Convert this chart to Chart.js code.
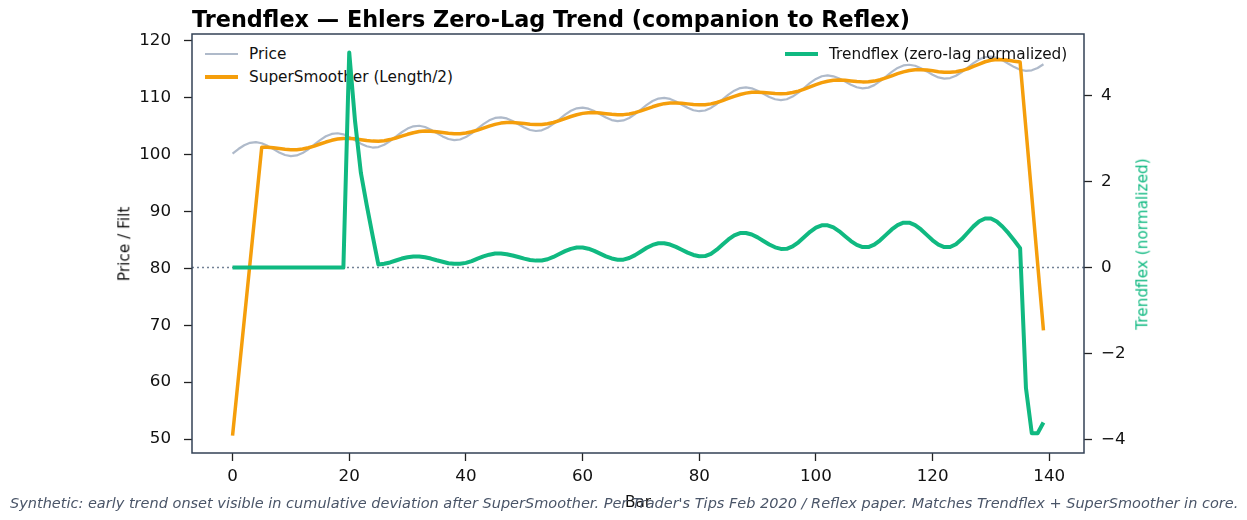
<!DOCTYPE html>
<html>
<head>
<meta charset="utf-8">
<script src="https://cdn.jsdelivr.net/npm/chart.js@4.4.0/dist/chart.umd.min.js"></script>
<style>
  body { margin: 0; background: #fff; }
  #wrap { position: relative; width: 1247px; height: 520px; background: #fff; font-family: 'DejaVu Sans', sans-serif; }
  #chart { position: absolute; left: 0; top: 0; z-index: 1; }
  .txt { position: absolute; white-space: nowrap; }
  .sw { position: absolute; }
</style>
</head>
<body>
<div id="wrap">
  <!-- left legend sits under the canvas, like the twin axis in the original -->
  <div class="sw" style="left:205px;top:53px;width:33px;height:2.2px;background:rgba(148,163,184,0.75);z-index:0"></div>
  <div class="txt" style="left:249px;top:46.6px;font-size:15.3px;line-height:15.3px;color:#111;z-index:0">Price</div>
  <div class="sw" style="left:205px;top:75.2px;width:33px;height:3.5px;background:#f59e0b;z-index:0"></div>
  <div class="txt" style="left:249px;top:69.6px;font-size:15.3px;line-height:15.3px;color:#111;z-index:0">SuperSmoother (Length/2)</div>

  <canvas id="chart" width="1247" height="520"></canvas>

  <div class="sw" style="left:785px;top:52px;width:33px;height:4px;background:#10b981;z-index:2"></div>
  <div class="txt" style="left:829px;top:46.6px;font-size:15.3px;line-height:15.3px;color:#111;z-index:2">Trendflex (zero-lag normalized)</div>

  <div class="txt" style="left:192px;top:8.3px;font-size:22.35px;line-height:22.35px;font-weight:bold;color:#000;z-index:2">Trendflex — Ehlers Zero-Lag Trend (companion to Reflex)</div>
  <div class="txt" style="left:125px;top:244px;font-size:15.3px;line-height:15.3px;color:#111;transform:translate(-50%,-50%) rotate(-90deg);z-index:2">Price / Filt</div>
  <div class="txt" style="left:1143px;top:243.5px;font-size:15.3px;line-height:15.3px;color:#10b981;transform:translate(-50%,-50%) rotate(-90deg);z-index:2">Trendflex (normalized)</div>
  <div class="txt" style="left:638px;top:495px;font-size:15.3px;line-height:15.3px;color:#111;transform:translateX(-50%);z-index:2">Bar</div>
  <div class="txt" style="left:10px;top:495.8px;font-size:14.5px;line-height:14.5px;font-style:italic;color:#4a5568;z-index:3">Synthetic: early trend onset visible in cumulative deviation after SuperSmoother. Per Trader's Tips Feb 2020 / Reflex paper. Matches Trendflex + SuperSmoother in core.</div>
</div>

<script>
const bars = Array.from({ length: 140 }, (_, i) => i);

const price = [
  100.20, 101.00, 101.67, 102.09, 102.21, 102.01, 101.56, 100.98, 100.40, 99.95,
  99.76, 99.87, 100.29, 100.96, 101.76, 102.57, 103.24, 103.66, 103.77, 103.58,
  103.13, 102.55, 101.95, 101.48, 101.26, 101.35, 101.75, 102.40, 103.18, 103.95,
  104.60, 105.00, 105.09, 104.87, 104.40, 103.80, 103.22, 102.77, 102.57, 102.68,
  103.10, 103.77, 104.57, 105.38, 106.05, 106.47, 106.58, 106.38, 105.93, 105.35,
  104.79, 104.35, 104.17, 104.29, 104.73, 105.41, 106.23, 107.04, 107.73, 108.16,
  108.29, 108.10, 107.67, 107.10, 106.53, 106.09, 105.90, 106.03, 106.46, 107.14,
  107.95, 108.76, 109.44, 109.87, 110.00, 109.81, 109.37, 108.80, 108.25, 107.82,
  107.65, 107.78, 108.23, 108.92, 109.75, 110.58, 111.27, 111.72, 111.85, 111.68,
  111.25, 110.70, 110.16, 109.76, 109.60, 109.75, 110.22, 110.93, 111.78, 112.62,
  113.33, 113.80, 113.95, 113.79, 113.39, 112.85, 112.29, 111.86, 111.68, 111.80,
  112.24, 112.93, 113.75, 114.57, 115.26, 115.70, 115.82, 115.64, 115.21, 114.65,
  114.06, 113.59, 113.38, 113.48, 113.88, 114.54, 115.33, 116.11, 116.77, 117.18,
  117.27, 117.06, 116.59, 116.00, 115.41, 114.95, 114.74, 114.84, 115.25, 115.91
];

// SuperSmoother (Length/2) - warm-up bars 1..4 left empty, line spans the gap
const smoother = [
  50.6, null, null, null, null, 101.30, 101.30, 101.22, 101.09, 100.96,
  100.89, 100.89, 101.00, 101.22, 101.52, 101.88, 102.23, 102.53, 102.75, 102.87,
  102.87, 102.79, 102.64, 102.49, 102.39, 102.37, 102.46, 102.66, 102.94, 103.26,
  103.59, 103.87, 104.07, 104.16, 104.14, 104.04, 103.91, 103.78, 103.70, 103.70,
  103.81, 104.03, 104.33, 104.69, 105.04, 105.34, 105.56, 105.67, 105.67, 105.59,
  105.48, 105.36, 105.30, 105.31, 105.44, 105.67, 105.99, 106.35, 106.72, 107.03,
  107.27, 107.39, 107.41, 107.34, 107.22, 107.10, 107.03, 107.05, 107.17, 107.40,
  107.71, 108.07, 108.43, 108.74, 108.98, 109.10, 109.11, 109.04, 108.94, 108.83,
  108.78, 108.80, 108.94, 109.18, 109.51, 109.89, 110.26, 110.59, 110.83, 110.97,
  110.99, 110.94, 110.85, 110.77, 110.73, 110.77, 110.93, 111.19, 111.54, 111.93,
  112.32, 112.67, 112.93, 113.08, 113.13, 113.09, 112.98, 112.87, 112.81, 112.82,
  112.95, 113.19, 113.51, 113.88, 114.25, 114.57, 114.80, 114.93, 114.95, 114.89,
  114.75, 114.60, 114.51, 114.50, 114.59, 114.80, 115.09, 115.55, 115.95, 116.35,
  116.62, 116.75, 116.72, 116.60, 116.45, 116.30, 104.5, 92.7, 80.9, 69.1
];

const trendflex = [
  0, 0, 0, 0, 0, 0, 0, 0, 0, 0,
  0, 0, 0, 0, 0, 0, 0, 0, 0, 0,
  5.0, 3.4, 2.2, 1.45, 0.75, 0.07, 0.09, 0.12, 0.165, 0.21,
  0.24, 0.26, 0.258, 0.24, 0.21, 0.17, 0.135, 0.10, 0.087, 0.088,
  0.11, 0.15, 0.21, 0.26, 0.30, 0.327, 0.328, 0.31, 0.28, 0.245,
  0.208, 0.178, 0.162, 0.164, 0.194, 0.248, 0.315, 0.382, 0.436, 0.466,
  0.466, 0.438, 0.388, 0.325, 0.262, 0.212, 0.184, 0.185, 0.223, 0.29,
  0.375, 0.46, 0.527, 0.565, 0.566, 0.536, 0.482, 0.415, 0.348, 0.294,
  0.264, 0.267, 0.32, 0.416, 0.535, 0.654, 0.75, 0.803, 0.805, 0.769,
  0.702, 0.62, 0.538, 0.471, 0.435, 0.437, 0.491, 0.588, 0.71, 0.832,
  0.929, 0.983, 0.983, 0.933, 0.843, 0.73, 0.617, 0.527, 0.476, 0.477,
  0.533, 0.634, 0.76, 0.886, 0.987, 1.043, 1.043, 0.987, 0.886, 0.76,
  0.634, 0.533, 0.477, 0.478, 0.544, 0.662, 0.81, 0.958, 1.076, 1.142,
  1.14, 1.07, 0.95, 0.8, 0.63, 0.45, -2.8, -3.85, -3.85, -3.6
];

const xTicks = [0, 20, 40, 60, 80, 100, 120, 140];
const leftTicks = [50, 60, 70, 80, 90, 100, 110, 120];
const rightTicks = [-4, -2, 0, 2, 4];

function toPoints(values) {
  return values.map((v, i) => ({ x: bars[i], y: v }));
}

Chart.defaults.font.family = "'DejaVu Sans', sans-serif";

// dotted zero line on the right axis + box frame round the plot
const framePlugin = {
  id: "frame",
  beforeDatasetsDraw(chart) {
    const { ctx, chartArea } = chart;
    const y0 = chart.scales.y2.getPixelForValue(0);
    ctx.save();
    ctx.strokeStyle = "rgba(100,116,139,0.9)";
    ctx.lineWidth = 1.5;
    ctx.setLineDash([2, 3]);
    ctx.beginPath();
    ctx.moveTo(chartArea.left, y0);
    ctx.lineTo(chartArea.right, y0);
    ctx.stroke();
    ctx.restore();
  },
  afterDraw(chart) {
    const { ctx, chartArea } = chart;
    ctx.save();
    ctx.strokeStyle = "#334155";
    ctx.lineWidth = 1.5;
    ctx.strokeRect(chartArea.left, chartArea.top, chartArea.right - chartArea.left, chartArea.bottom - chartArea.top);
    ctx.restore();
  },
};

const tickGrid = { drawOnChartArea: false, tickLength: 8, tickColor: "#222", tickWidth: 1.3 };
const tickFont = { size: 16.7 };

const ctx = document.querySelector("#chart").getContext("2d");
new Chart(ctx, {
  type: "line",
  data: {
    datasets: [
      {
        label: "Trendflex (zero-lag normalized)",
        data: toPoints(trendflex),
        yAxisID: "y2",
        borderColor: "#10b981",
        borderWidth: 4,
        order: 0,
      },
      {
        label: "SuperSmoother (Length/2)",
        data: toPoints(smoother),
        yAxisID: "y",
        borderColor: "#f59e0b",
        borderWidth: 3.5,
        spanGaps: true,
        order: 1,
      },
      {
        label: "Price",
        data: toPoints(price),
        yAxisID: "y",
        borderColor: "rgba(148,163,184,0.75)",
        borderWidth: 2.2,
        order: 2,
      },
    ],
  },
  options: {
    responsive: false,
    animation: false,
    devicePixelRatio: 1,
    layout: { padding: { top: 34, left: 0, right: 0, bottom: 0 } },
    plugins: { legend: { display: false }, tooltip: { enabled: false } },
    elements: {
      line: { tension: 0, fill: false, borderJoinStyle: "round" },
      point: { radius: 0 },
    },
    scales: {
      x: {
        type: "linear",
        min: -6.95,
        max: 145.95,
        afterBuildTicks: (s) => { s.ticks = xTicks.map((v) => ({ value: v })); },
        afterFit: (s) => { s.height = 67; },
        grid: tickGrid,
        border: { display: false },
        ticks: { padding: 6, color: "#111", font: tickFont, maxRotation: 0, autoSkip: false },
      },
      y: {
        position: "left",
        min: 47.54,
        max: 121.23,
        afterBuildTicks: (s) => { s.ticks = leftTicks.map((v) => ({ value: v })); },
        afterFit: (s) => { s.width = 192; },
        grid: tickGrid,
        border: { display: false },
        ticks: { padding: 13, color: "#111", font: tickFont, autoSkip: false },
      },
      y2: {
        position: "right",
        min: -4.31,
        max: 5.43,
        afterBuildTicks: (s) => { s.ticks = rightTicks.map((v) => ({ value: v })); },
        afterFit: (s) => { s.width = 163; },
        grid: tickGrid,
        border: { display: false },
        ticks: {
          padding: 9,
          color: "#111",
          font: tickFont,
          autoSkip: false,
          callback: (v) => (v < 0 ? "\u2212" + Math.abs(v) : String(v)),
        },
      },
    },
  },
  plugins: [framePlugin],
});
</script>
</body>
</html>
